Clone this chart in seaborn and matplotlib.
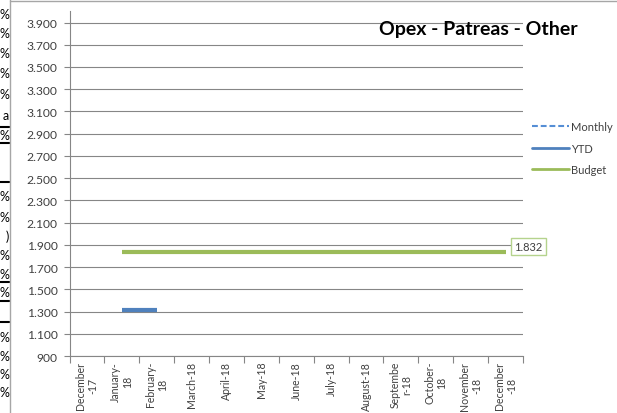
import numpy as np
import pandas as pd
import matplotlib
matplotlib.use("Agg")
import matplotlib.pyplot as plt
import seaborn as sns
from matplotlib.lines import Line2D
from matplotlib.ticker import FuncFormatter

# ---------------- data ----------------
months = ["December\n-17", "January-\n18", "February-\n18", "March-18", "April-18",
          "May-18", "June-18", "July-18", "August-18", "Septembe\nr-18",
          "October-\n18", "November\n-18", "December\n-18"]
monthly = [np.nan] * 13
ytd = [np.nan, 1310, 1310] + [np.nan] * 10
budget = [np.nan] + [1832] * 12
y_ticks = list(range(900, 4000, 200))
series_labels = ["Monthly", "YTD", "Budget"]
title = "Opex - Patreas - Other"

# ---------------- style ----------------
sns.set_theme(style="white")
plt.rcParams["font.family"] = ["Lato", "DejaVu Sans"]

W, H = 617, 414
fig = plt.figure(figsize=(W / 100, H / 100), dpi=100)
ax = fig.add_axes([69.5 / W, 1 - 357 / H, 453.5 / W, (357 - 12.4) / H])

GRID = "#868686"
TXT = "#404040"
C_MONTHLY = "#558ED5"
C_YTD = "#4F81BD"
C_BUDGET = "#9BBB59"

x = np.arange(len(months))
df = pd.DataFrame({"x": x, "Monthly": monthly, "YTD": ytd, "Budget": budget})

sns.lineplot(data=df, x="x", y="Budget", ax=ax, color=C_BUDGET, lw=3,
             solid_capstyle="butt")
sns.lineplot(data=df, x="x", y="YTD", ax=ax, color=C_YTD, lw=3,
             solid_capstyle="butt")

ax.set_xlim(-0.5, len(months) - 0.5)
ax.set_ylim(900, 4000)
ax.set_xlabel("")
ax.set_ylabel("")

ax.set_yticks(y_ticks)
ax.yaxis.set_major_formatter(FuncFormatter(lambda v, p: f"{v:,.0f}".replace(",", ".")))
ax.grid(axis="y", color=GRID, lw=0.8)
ax.grid(axis="x", visible=False)
ax.set_axisbelow(True)

ax.set_xticks(np.arange(-0.5, len(months), 1.0))
ax.set_xticklabels([])
ax.set_xticks(x, minor=True)
ax.set_xticklabels(months, minor=True, rotation=90, fontsize=7.6, color=TXT,
                   multialignment="center", linespacing=1.1)
ax.tick_params(axis="x", which="minor", length=0, pad=3.5)
ax.tick_params(axis="x", which="major", length=5, width=0.8, color=GRID,
               direction="out", bottom=True)
ax.tick_params(axis="y", length=4, width=0.8, color=GRID, direction="out",
               left=True, labelsize=8.7, labelcolor=TXT, pad=4.5)

for s in ["top", "right"]:
    ax.spines[s].set_visible(False)
for s in ["left", "bottom"]:
    ax.spines[s].set_color(GRID)
    ax.spines[s].set_linewidth(0.8)

# data label for last budget value
ax.annotate(f"{budget[-1]:,}".replace(",", "."), xy=(x[-1], budget[-1]),
            xytext=(9, 6), textcoords="offset pixels", ha="left", va="center",
            fontsize=8, color=TXT,
            bbox=dict(boxstyle="square,pad=0.3", fc="white", ec="#B5D38D", lw=1))

fig.text(478 / W, 1 - 30 / H, title, ha="center", va="center",
         fontsize=14, fontweight="bold", color="black")

handles = [
    Line2D([], [], color=C_MONTHLY, lw=1.5, ls=(0, (2.8, 1.4))),
    Line2D([], [], color=C_YTD, lw=2),
    Line2D([], [], color=C_BUDGET, lw=2),
]
leg = fig.legend(handles, series_labels, loc="upper left",
                 bbox_to_anchor=(532 / W, 1 - 122 / H), frameon=False,
                 fontsize=8, handlelength=3.3, handletextpad=0.2,
                 labelspacing=0.95, borderpad=0, borderaxespad=0)
for t in leg.get_texts():
    t.set_color(TXT)

# ---------------- surrounding sheet fragments (decoration) ----------------
fig.add_artist(Line2D([10 / W, 10 / W], [0, 1], transform=fig.transFigure,
                      color="#A6A6A6", lw=1))
fig.add_artist(Line2D([10 / W, 1], [1 - 1.5 / H, 1 - 1.5 / H],
                      transform=fig.transFigure, color="#A6A6A6", lw=1))
frag_rows = [(15, "%"), (34, "%"), (54, "%"), (74, "%"), (95, "%"), (116, "a"),
             (136, "%"), (197, "%"), (218, "%"), (237, ")"), (256, "%"),
             (275, "%"), (293, "%"), (338, "%"), (357, "%"), (375, "%"),
             (393, "%")]
for yy, ch in frag_rows:
    fig.text(9 / W, 1 - yy / H, ch, ha="right", va="center", fontsize=9,
             color="black")
for yy in [128, 144, 183, 283, 302, 323]:
    fig.add_artist(Line2D([0, 9 / W], [1 - yy / H, 1 - yy / H],
                          transform=fig.transFigure, color="black", lw=1.5))

fig.savefig("out.png", dpi=100)
